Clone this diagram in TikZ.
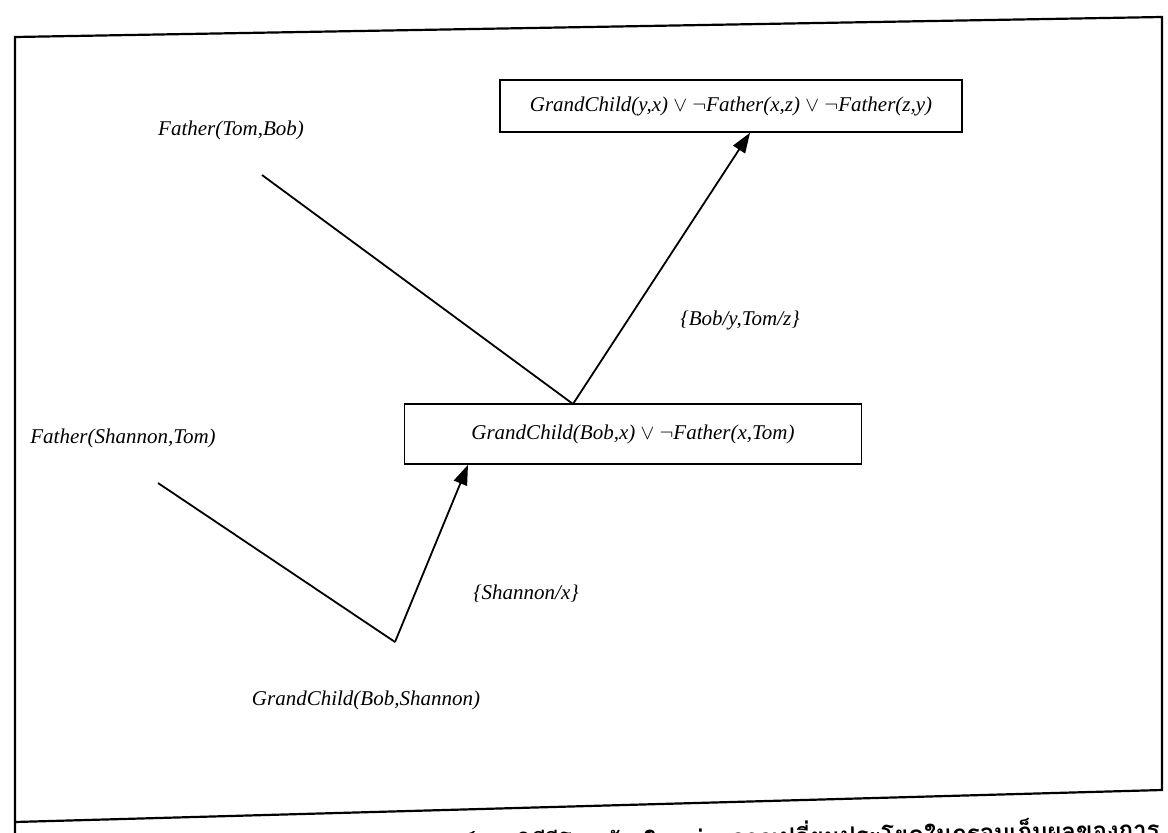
\documentclass[tikz,border=0pt]{standalone}
\usepackage{fontspec}
\setmainfont{Liberation Serif}
\newfontfamily\thaifont[Script=Thai]{Loma}
\usetikzlibrary{arrows.meta}
\begin{document}
\begin{tikzpicture}[x=1pt,y=-1pt,
  lbl/.style={font=\fontsize{21}{25}\selectfont\itshape, inner sep=0pt},
  box/.style={lbl, draw, line width=1.6pt, inner sep=0pt},
  conn/.style={line width=1.8pt},
  arr/.style={conn, -{Triangle[length=20pt,width=14pt]}}]
\useasboundingbox (0,0) rectangle (1168,833);
% outer frame
\draw[line width=2.2pt] (15,845) -- (15,37) -- (1162,17) -- (1162,790) -- (15,822);
% nodes
\node[box, minimum width=462pt, minimum height=52pt] (top) at (731,106)
  {GrandChild(y,x) $\vee$ $\neg$Father(x,z) $\vee$ $\neg$Father(z,y)};
\node[box, minimum width=457pt, minimum height=60pt] (mid) at (633,434)
  {GrandChild(Bob,x) $\vee$ $\neg$Father(x,Tom)};
\node[lbl] (ftb) at (231,130) {Father(Tom,Bob)};
\node[lbl] (fst) at (123,438) {Father(Shannon,Tom)};
\node[lbl] (gbs) at (366,700) {GrandChild(Bob,Shannon)};
\node[lbl] (s1) at (740,320) {\{Bob/y,Tom/z\}};
\node[lbl] (s2) at (526,594) {\{Shannon/x\}};
\coordinate (ftbend) at (262,175);
\coordinate (apex1) at (573,404);
\coordinate (fstend) at (158,483);
\coordinate (apex2) at (395,642);
% connectors
\draw[conn] (ftbend) -- (apex1);
\draw[arr] (apex1) -- (top.south -| 750,0);
\draw[conn] (fstend) -- (apex2);
\draw[arr] (apex2) -- (mid.south -| 468,0);
% caption (cut off at the bottom edge, as in the scan)
\node[font=\thaifont\bfseries\fontsize{24}{28}\selectfont, anchor=base east, inner sep=0pt, rotate=1.2] (cap) at (1160,838)
  {ตัวอย่างการพิสูจน์โดยวิธีรีโซลูชัน ในแต่ละการเปลี่ยนประโยคในกรอบเก็บผลของการ};
\end{tikzpicture}
\end{document}
